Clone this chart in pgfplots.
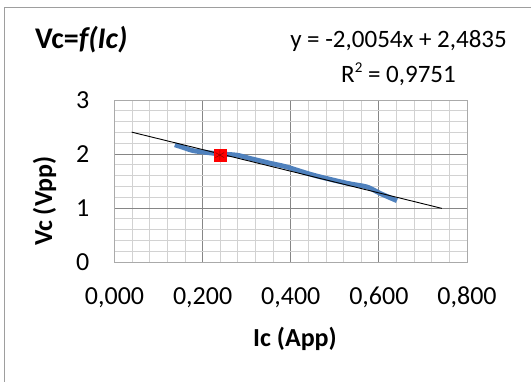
\documentclass[border=0pt]{standalone}
\usepackage{fontspec}
\setmainfont{Carlito}
\usepackage{pgfplots}
\pgfplotsset{compat=1.18}
\definecolor{exblue}{RGB}{79,129,189}
\definecolor{majgrid}{RGB}{134,134,134}
\definecolor{mingrid}{RGB}{210,210,210}
\begin{document}
\begin{tikzpicture}
\useasboundingbox (0pt,0pt) rectangle (531pt,382pt);
\draw[color=majgrid!80, line width=1pt] (4pt,0pt) -- (4pt,374pt) -- (531pt,374pt);
\node[anchor=base west, inner sep=0pt, font=\fontsize{30}{32}\selectfont\bfseries] at (35pt,333.5pt) {Vc=\textit{f(Ic)}};
\node[anchor=base, inner sep=0pt, font=\fontsize{25}{27}\selectfont] at (398.5pt,334pt) {y = -2,0054x + 2,4835};
\node[anchor=base, inner sep=0pt, font=\fontsize{25}{27}\selectfont] at (398.5pt,299pt) {R\raisebox{0.42em}{\fontsize{15}{15}\selectfont 2} = 0,9751};
\node[anchor=base, inner sep=0pt, font=\fontsize{26}{28}\selectfont\bfseries] at (295pt,35.5pt) {Ic (App)};
\node[anchor=base, inner sep=0pt, rotate=90, font=\fontsize{26}{28}\selectfont\bfseries] at (52pt,181pt) {Vc (Vpp)};
\begin{axis}[
  at={(114.5pt,120pt)}, anchor=south west,
  scale only axis, width=352.5pt, height=162pt,
  xmin=0, xmax=0.8, ymin=0, ymax=3,
  xtick={0,0.2,0.4,0.6,0.8}, ytick={0,1,2,3},
  minor x tick num=4, minor y tick num=4,
  grid=both,
  major grid style={majgrid, line width=0.8pt},
  minor grid style={mingrid, line width=0.8pt},
  axis line style={majgrid!70, line width=0.8pt},
  tick style={draw=none},
  /pgf/number format/assume math mode=true,
  xticklabel style={/pgf/number format/fixed, /pgf/number format/fixed zerofill, /pgf/number format/precision=3, /pgf/number format/use comma},
  xticklabel style={anchor=base, yshift=-43pt, inner sep=0pt, font=\fontsize{26}{28}\selectfont},
  yticklabel style={anchor=base east, xshift=-25pt, yshift=-8.5pt, inner sep=0pt, font=\fontsize{26}{28}\selectfont},
  clip=false,
]
\addplot[exblue, line width=4.8pt, smooth, tension=0.5] coordinates {
 (0.137,2.17) (0.16,2.11) (0.179,2.06) (0.217,2.02) (0.24,2.00) (0.277,1.98) (0.307,1.92)
 (0.353,1.83) (0.391,1.76) (0.451,1.61) (0.527,1.46) (0.573,1.39) (0.603,1.27) (0.641,1.135)
};
\addplot[black, line width=0.9pt] coordinates {(0.039,2.405) (0.743,0.993)};
\addplot[only marks, mark=square*, mark size=6pt, mark options={fill=red, draw=red}] coordinates {(0.239,1.98)};
\addplot[only marks, mark=asterisk, mark size=5pt, mark options={draw=red!60!black, line width=0.6pt}] coordinates {(0.239,1.98)};
\end{axis}
\end{tikzpicture}
\end{document}
